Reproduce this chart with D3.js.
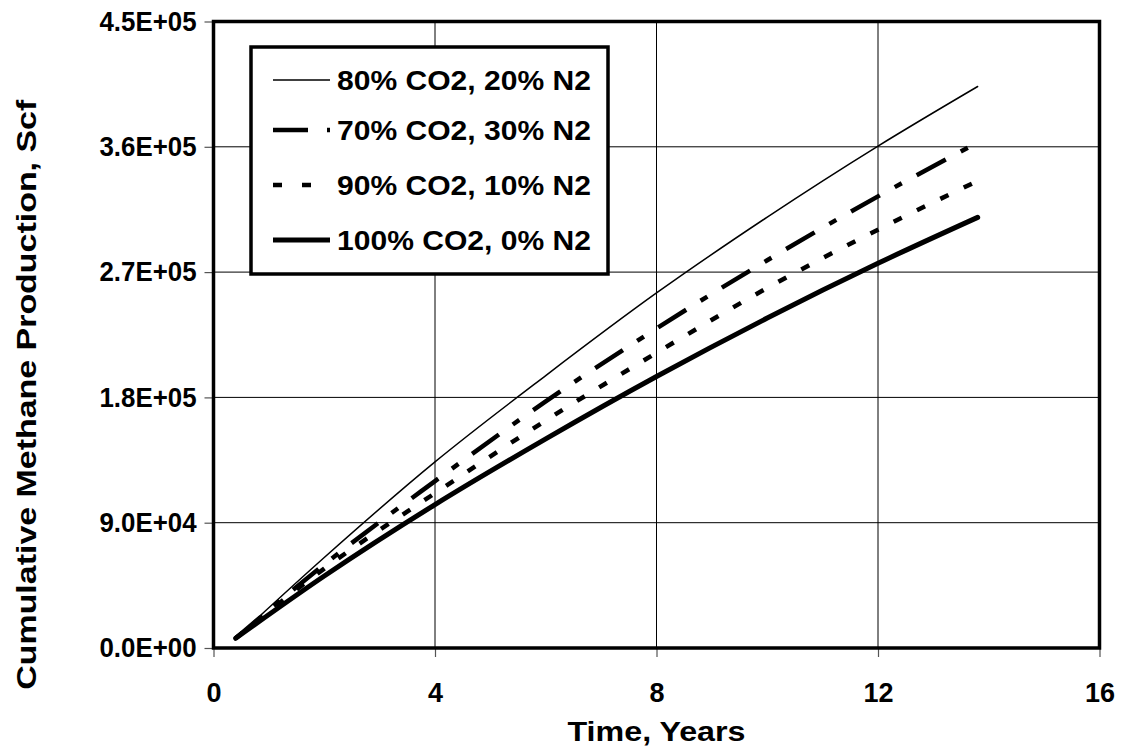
<!DOCTYPE html>
<html>
<head>
<meta charset="utf-8">
<script src="https://cdn.jsdelivr.net/npm/d3@7"></script>
<style>
  html, body { margin: 0; padding: 0; background: #fff; }
  svg { display: block; }
  text { font-family: Arial, "Liberation Sans", sans-serif; font-weight: bold; fill: #000; }
</style>
</head>
<body>
<svg id="chart" width="1129" height="746"></svg>
<script>
// Cumulative methane production (Scf) vs. time (years) for four injection-gas mixtures
const years = [0.4, 2, 4, 6, 8, 10, 12, 13.8];
const co2_80_n2_20 = [7000, 65000, 133700, 195700, 255000, 309500, 360500, 403300];
const co2_70_n2_30 = [7000, 60000, 119900, 177100, 229500, 278500, 324400, 363000];
const co2_90_n2_10 = [7000, 57000, 111200, 163400, 212000, 258600, 300500, 335500];
const co2_100_n2_0 = [7000, 51700, 103000, 150200, 195000, 237000, 276300, 309300];

const seriesNames = ["80% CO2, 20% N2", "70% CO2, 30% N2", "90% CO2, 10% N2", "100% CO2, 0% N2"];
const xTicks = [0, 4, 8, 12, 16];
const yTicks = [0, 90000, 180000, 270000, 360000, 450000];
const xTitle = "Time, Years";
const yTitle = "Cumulative Methane Production, Scf";

const seriesValues = [co2_80_n2_20, co2_70_n2_30, co2_90_n2_10, co2_100_n2_0];
const seriesStyle = [
  { width: 1.5, dash: null, legendDash: null },
  { width: 4.5, dash: "33,17,8,17", legendDash: "35,19,8,19" },
  { width: 4.5, dash: "9,17", legendDash: "9,20" },
  { width: 5, dash: null, legendDash: null }
];

const svg = d3.select("#chart");
const plot = { left: 213.5, right: 1099.5, top: 21.5, bottom: 648 };

const x = d3.scaleLinear().domain([0, 16]).range([plot.left, plot.right]);
const y = d3.scaleLinear().domain([0, 450000]).range([plot.bottom, plot.top]);

const fmtY = v => {
  const e = v === 0 ? 0 : Math.floor(Math.log10(v));
  const m = v === 0 ? 0 : v / Math.pow(10, e);
  return m.toFixed(1) + "E+" + String(e).padStart(2, "0");
};

// gridlines
const grid = svg.append("g");
grid.selectAll("line.gx").data(xTicks.slice(1, -1)).join("line")
  .attr("x1", d => x(d)).attr("x2", d => x(d))
  .attr("y1", plot.top).attr("y2", plot.bottom)
  .attr("stroke", "#000").attr("stroke-width", 1);
grid.selectAll("line.gy").data(yTicks.slice(1, -1)).join("line")
  .attr("x1", plot.left).attr("x2", plot.right)
  .attr("y1", d => y(d)).attr("y2", d => y(d))
  .attr("stroke", "#000").attr("stroke-width", 1);

// axes with outward ticks
const yAxis = d3.axisLeft(y).tickValues(yTicks).tickFormat(fmtY).tickSize(9).tickPadding(8);
const xAxis = d3.axisBottom(x).tickValues(xTicks).tickFormat(d3.format("d")).tickSize(9).tickPadding(26);

const gy = svg.append("g").attr("transform", `translate(${plot.left},0)`).call(yAxis);
const gx = svg.append("g").attr("transform", `translate(0,${plot.bottom})`).call(xAxis);
[gx, gy].forEach(g => {
  g.select(".domain").remove();
  g.selectAll(".tick line").attr("stroke", "#555").attr("stroke-width", 1.2);
  g.selectAll(".tick text").attr("font-size", 27).attr("font-family", "Arial, 'Liberation Sans', sans-serif").attr("font-weight", "bold").attr("fill", "#000");
});
gy.selectAll(".tick text").attr("textLength", 97).attr("lengthAdjust", "spacingAndGlyphs");

// series
const line = d3.line().curve(d3.curveMonotoneX)
  .x((d, i) => x(years[i])).y(d => y(d));

const lines = svg.append("g");
seriesValues.forEach((vals, k) => {
  const st = seriesStyle[k];
  lines.append("path")
    .attr("d", line(vals))
    .attr("fill", "none")
    .attr("stroke", "#000")
    .attr("stroke-width", st.width)
    .attr("stroke-dasharray", st.dash)
    .attr("stroke-linecap", st.dash ? "butt" : "round")
    .attr("stroke-linejoin", "round");
});

// plot frame
svg.append("rect")
  .attr("x", plot.left).attr("y", plot.top)
  .attr("width", plot.right - plot.left).attr("height", plot.bottom - plot.top)
  .attr("fill", "none").attr("stroke", "#000").attr("stroke-width", 3.5);

// legend
const lg = svg.append("g").attr("transform", "translate(251,47)");
lg.append("rect").attr("width", 357).attr("height", 227)
  .attr("fill", "#fff").attr("stroke", "#000").attr("stroke-width", 3.5);
const rowY = [33, 83, 138, 193];
seriesNames.forEach((name, k) => {
  const st = seriesStyle[k];
  lg.append("line")
    .attr("x1", 22).attr("x2", 79)
    .attr("y1", rowY[k]).attr("y2", rowY[k])
    .attr("stroke", "#000")
    .attr("stroke-width", st.width)
    .attr("stroke-dasharray", st.legendDash);
  lg.append("text")
    .attr("x", 86).attr("y", rowY[k] + 10)
    .attr("font-size", 27)
    .attr("textLength", k === 3 ? 254 : 254)
    .attr("lengthAdjust", "spacingAndGlyphs")
    .text(name);
});

// axis titles
svg.append("text")
  .attr("x", (plot.left + plot.right) / 2).attr("y", 741)
  .attr("text-anchor", "middle").attr("font-size", 28)
  .attr("textLength", 178).attr("lengthAdjust", "spacingAndGlyphs")
  .text(xTitle);
svg.append("text")
  .attr("transform", `translate(36,${(plot.top + plot.bottom) / 2 + 60}) rotate(-90)`)
  .attr("text-anchor", "middle").attr("font-size", 28)
  .attr("textLength", 590).attr("lengthAdjust", "spacingAndGlyphs")
  .text(yTitle);
</script>
</body>
</html>
